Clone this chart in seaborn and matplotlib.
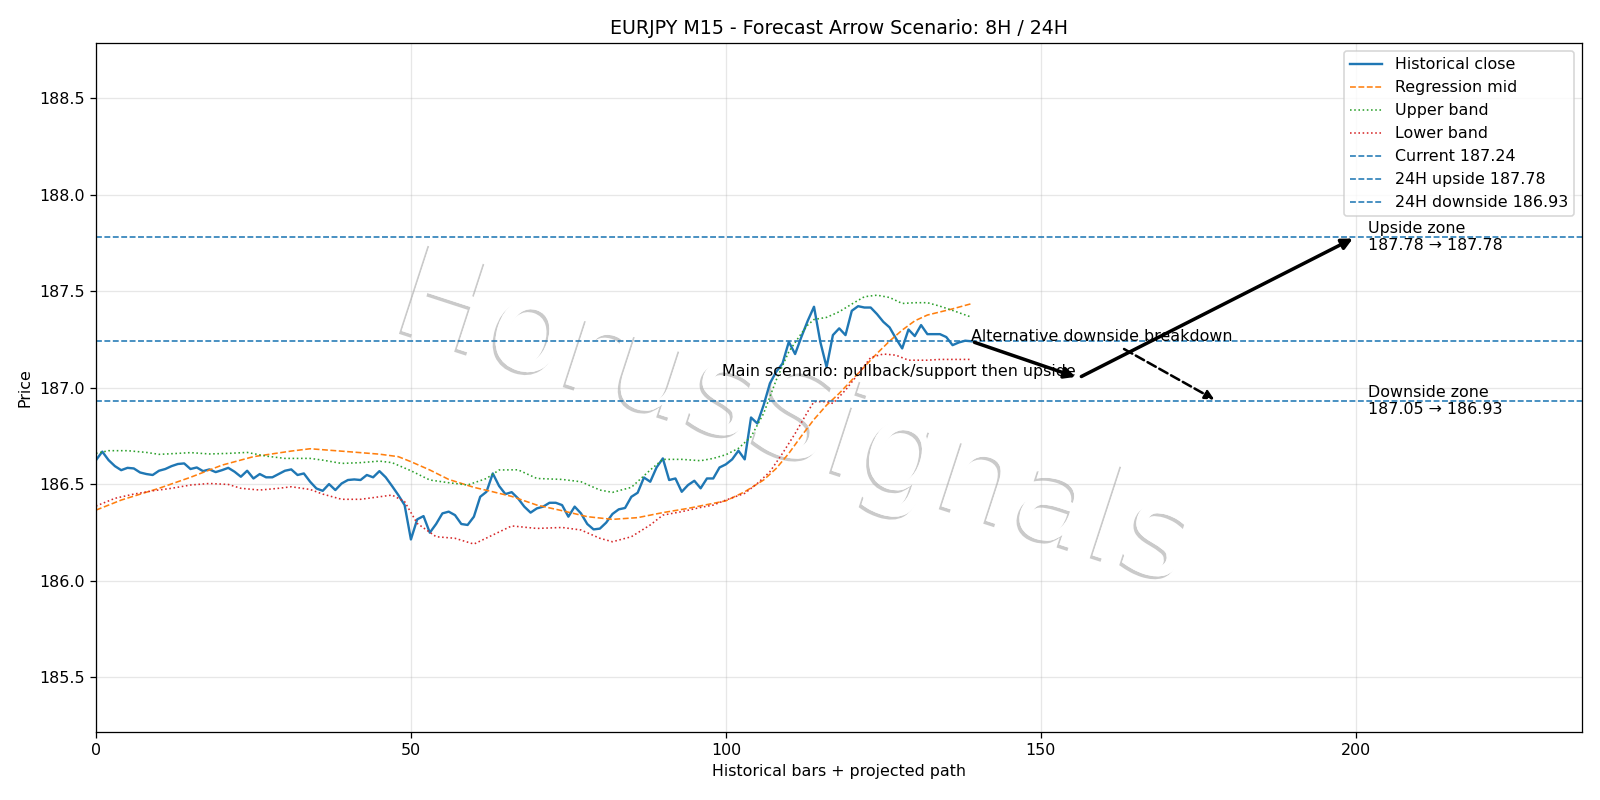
import numpy as np
import pandas as pd
import seaborn as sns
import matplotlib.pyplot as plt
import matplotlib.patheffects as pe

# historical close, one value per M15 bar (0..139)
close = [
    186.624, 186.668, 186.624, 186.593, 186.572, 186.584, 186.581, 186.560, 186.552, 186.547,
    186.569, 186.578, 186.593, 186.604, 186.607, 186.578, 186.586, 186.567, 186.576, 186.562,
    186.572, 186.584, 186.564, 186.538, 186.569, 186.529, 186.552, 186.535, 186.535, 186.552,
    186.569, 186.576, 186.547, 186.555, 186.512, 186.477, 186.465, 186.500, 186.469, 186.503,
    186.521, 186.524, 186.521, 186.547, 186.535, 186.567, 186.535, 186.490, 186.443, 186.391,
    186.213, 186.317, 186.334, 186.248, 186.293, 186.348, 186.357, 186.339, 186.293, 186.288,
    186.331, 186.434, 186.460, 186.555, 186.490, 186.448, 186.458, 186.426, 186.383, 186.352,
    186.374, 186.383, 186.403, 186.403, 186.391, 186.331, 186.383, 186.348, 186.293, 186.265,
    186.269, 186.300, 186.345, 186.369, 186.376, 186.434, 186.455, 186.534, 186.512, 186.586,
    186.633, 186.521, 186.529, 186.460, 186.495, 186.517, 186.478, 186.529, 186.529, 186.586,
    186.602, 186.628, 186.673, 186.628, 186.845, 186.814, 186.909, 187.022, 187.082, 187.125,
    187.237, 187.174, 187.263, 187.346, 187.419, 187.237, 187.106, 187.272, 187.307, 187.272,
    187.398, 187.422, 187.415, 187.415, 187.381, 187.341, 187.312, 187.255, 187.203, 187.301,
    187.267, 187.324, 187.277, 187.277, 187.277, 187.262, 187.220, 187.234, 187.243, 187.240,
]

# regression mid (orange)
mid_x = [0, 4, 10, 15, 20, 25, 31, 34, 40, 45, 48, 50, 53, 56, 60, 63, 66, 70, 74, 78,
         82, 86, 90, 94, 98, 100, 103, 106, 108, 110, 112, 114, 116, 118, 120, 122, 124,
         126, 128, 130, 132, 134, 136, 139]
mid_y = [186.365, 186.417, 186.478, 186.535, 186.598, 186.642, 186.671, 186.683, 186.668,
         186.655, 186.642, 186.616, 186.573, 186.524, 186.483, 186.460, 186.436, 186.391,
         186.362, 186.331, 186.317, 186.326, 186.352, 186.374, 186.400, 186.413, 186.460,
         186.521, 186.581, 186.659, 186.749, 186.835, 186.909, 186.970, 187.039, 187.108,
         187.177, 187.241, 187.298, 187.346, 187.376, 187.392, 187.408, 187.435]

# upper band (green)
upper_x = [0, 2, 5, 8, 10, 13, 15, 18, 21, 24, 27, 30, 34, 36, 39, 42, 45, 47, 50, 53,
           56, 59, 62, 64, 67, 70, 74, 77, 80, 82, 85, 88, 90, 93, 96, 98, 100, 102, 104,
           106, 108, 110, 112, 113, 114, 116, 118, 120, 122, 124, 126, 128, 130, 132, 134,
           136, 139]
upper_y = [186.659, 186.673, 186.673, 186.664, 186.654, 186.659, 186.663, 186.656, 186.659,
           186.664, 186.645, 186.633, 186.633, 186.624, 186.607, 186.611, 186.619, 186.611,
           186.569, 186.521, 186.507, 186.495, 186.529, 186.573, 186.574, 186.529, 186.524,
           186.512, 186.469, 186.457, 186.483, 186.573, 186.628, 186.628, 186.621, 186.633,
           186.652, 186.685, 186.745, 186.866, 187.039, 187.186, 187.281, 187.324, 187.353,
           187.364, 187.393, 187.433, 187.471, 187.479, 187.467, 187.436, 187.440, 187.440,
           187.422, 187.400, 187.365]

# lower band (red)
lower_x = [0, 3, 6, 9, 12, 15, 18, 21, 23, 26, 29, 31, 34, 36, 39, 42, 45, 47, 49, 51,
           54, 57, 60, 63, 66, 70, 74, 77, 80, 82, 85, 88, 90, 93, 96, 98, 100, 103, 105,
           107, 109, 111, 113, 114, 116, 117, 119, 121, 123, 125, 127, 129, 132, 134, 139]
lower_y = [186.386, 186.426, 186.448, 186.465, 186.478, 186.495, 186.503, 186.498, 186.478,
           186.469, 186.478, 186.486, 186.472, 186.448, 186.421, 186.421, 186.434, 186.443,
           186.409, 186.296, 186.227, 186.219, 186.189, 186.236, 186.283, 186.270, 186.275,
           186.262, 186.219, 186.201, 186.227, 186.288, 186.339, 186.357, 186.379, 186.391,
           186.417, 186.452, 186.503, 186.564, 186.659, 186.762, 186.875, 186.927, 186.927,
           186.918, 186.987, 187.070, 187.156, 187.174, 187.168, 187.142, 187.142, 187.146,
           187.146]

current = 187.24
upside = 187.78
downside = 186.93
pullback = 187.05

last_bar = len(close) - 1
pullback_bar = 156
target_bar = 200
alt_bar = 178
horizon = 96  # 24H of M15 bars

df = pd.DataFrame({"bar": np.arange(len(close)), "close": close})

fig, ax = plt.subplots(figsize=(14, 7), dpi=1600 / 14)

sns.lineplot(x="bar", y="close", data=df, ax=ax, color="#1f77b4", linewidth=1.5,
             label="Historical close")
sns.lineplot(x=mid_x, y=mid_y, ax=ax, color="#ff7f0e", linestyle="--", linewidth=1.0,
             label="Regression mid")
sns.lineplot(x=upper_x, y=upper_y, ax=ax, color="#2ca02c", linestyle=":", linewidth=1.0,
             label="Upper band")
sns.lineplot(x=lower_x, y=lower_y, ax=ax, color="#d62728", linestyle=":", linewidth=1.0,
             label="Lower band")

ax.axhline(current, color="#1f77b4", linestyle="--", linewidth=1.0, label=f"Current {current:.2f}")
ax.axhline(upside, color="#1f77b4", linestyle="--", linewidth=1.0, label=f"24H upside {upside:.2f}")
ax.axhline(downside, color="#1f77b4", linestyle="--", linewidth=1.0, label=f"24H downside {downside:.2f}")

# main scenario arrows
main_arrow = dict(arrowstyle="-|>", color="black", lw=2.2, mutation_scale=14)
ax.annotate("", xy=(pullback_bar, pullback), xytext=(last_bar, current), arrowprops=main_arrow)
ax.annotate("", xy=(target_bar, upside), xytext=(pullback_bar, pullback), arrowprops=main_arrow)
ax.text(pullback_bar - 0.5, pullback + 0.01, "Main scenario: pullback/support then upside",
        ha="right", fontsize=10)

# alternative scenario
ax.annotate("Alternative downside breakdown", xy=(alt_bar, downside), xytext=(last_bar, current),
            fontsize=10,
            arrowprops=dict(arrowstyle="-|>", color="black", lw=1.6, linestyle="--",
                            mutation_scale=12))

ax.text(202, upside, f"Upside zone\n{upside:.2f} \u2192 {upside:.2f}", va="center", fontsize=10)
ax.text(202, downside, f"Downside zone\n{pullback:.2f} \u2192 {downside:.2f}", va="center", fontsize=10)

# watermark
ax.text(0.47, 0.45, "HorusSignals", transform=ax.transAxes, fontsize=80, rotation=-18,
        ha="center", va="center", color="white", zorder=0,
        path_effects=[pe.withSimplePatchShadow(offset=(-1.8, -1.8), shadow_rgbFace="#a8a8a8", alpha=0.6),
                      pe.Normal()])

ax.set_xlim(0, last_bar + 1 + horizon)
ax.set_ylim(185.217, 188.785)
ax.grid(True, alpha=0.3)
ax.set_title("EURJPY M15 - Forecast Arrow Scenario: 8H / 24H")
ax.set_xlabel("Historical bars + projected path")
ax.set_ylabel("Price")
ax.legend(loc="upper right")

plt.subplots_adjust(left=0.06, right=0.989, top=0.946, bottom=0.0855)
plt.savefig("out.png")
plt.close()
